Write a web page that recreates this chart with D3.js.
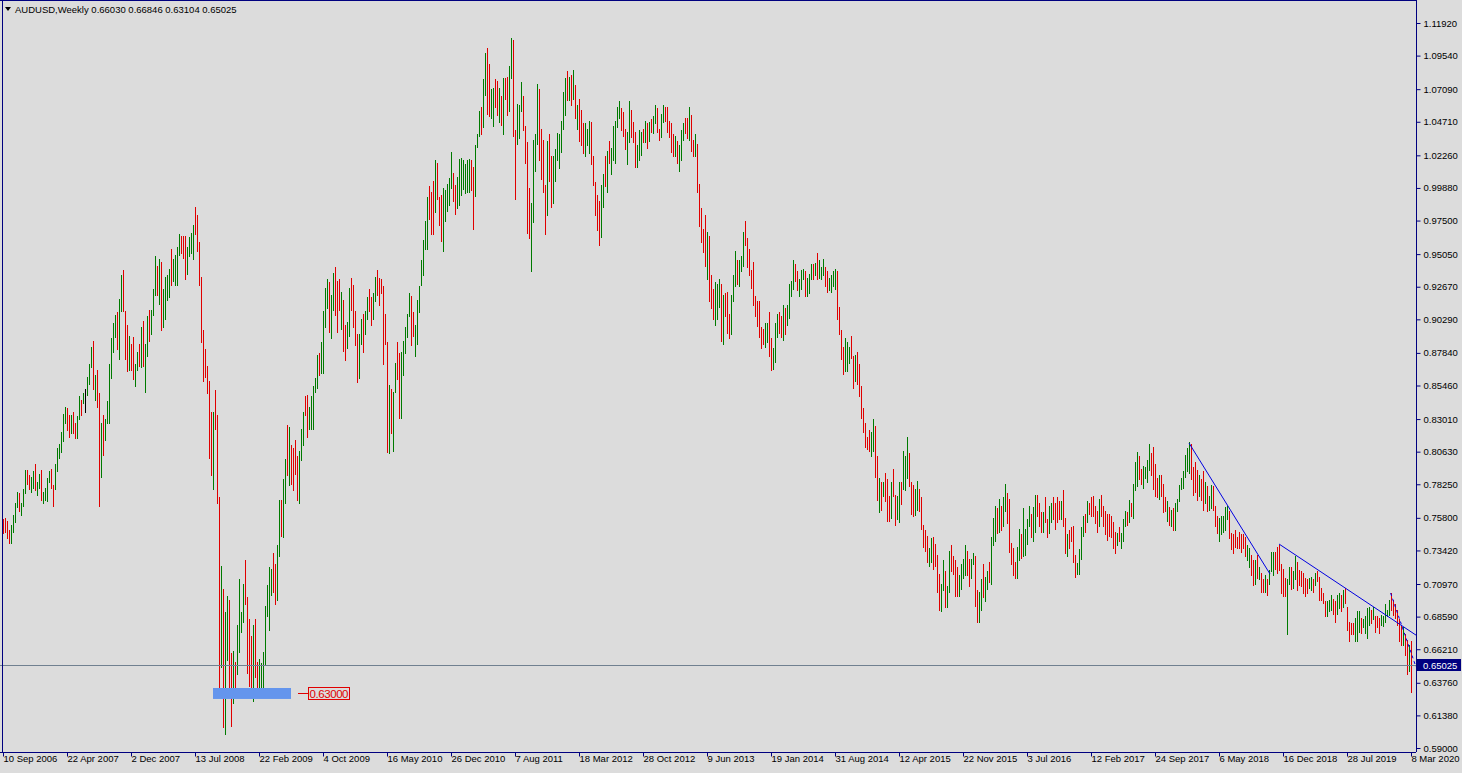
<!DOCTYPE html>
<html lang="en">
<head>
<meta charset="UTF-8">
<title>AUDUSD Weekly</title>
<script src="https://cdn.jsdelivr.net/npm/d3@7"></script>
<style>
  body { margin: 0; background: #dcdcdc; }
  svg { display: block; }
  text { font-family: "Liberation Sans", Arial, sans-serif; font-size: 9.5px; }
</style>
</head>
<body>
<svg id="chart"></svg>
<script>
// weekly highs / lows, bar 0 = 10 Sep 2006 ... bar 704 = 8 Mar 2020
var highs = [
.757,.758,.756,.749,.753,.760,.769,.777,.776,.769,
.779,.793,.793,.789,.788,.792,.797,.784,.790,.793,
.777,.780,.787,.792,.794,.782,.797,.809,.812,.821,
.834,.839,.838,.833,.833,.835,.827,.832,.847,.844,
.849,.852,.861,.870,.883,.887,.862,.866,.849,.827,
.833,.830,.843,.870,.889,.900,.906,.908,.918,.935,
.939,.909,.899,.891,.885,.890,.870,.879,.885,.897,
.902,.885,.905,.910,.910,.925,.949,.942,.947,.945,
.925,.934,.935,.940,.954,.947,.950,.956,.965,.964,
.964,.964,.956,.963,.966,.972,.985,.979,.959,.934,
.895,.881,.869,.858,.835,.835,.851,.833,.773,.723,
.706,.689,.701,.698,.659,.661,.653,.680,.713,.689,
.710,.727,.700,.684,.672,.680,.684,.653,.655,.652,
.660,.694,.709,.722,.721,.732,.724,.738,.771,.771,
.786,.801,.826,.824,.811,.809,.815,.803,.807,.823,
.835,.847,.848,.839,.847,.854,.860,.877,.878,.886,
.909,.926,.932,.930,.921,.937,.941,.931,.932,.923,
.917,.899,.901,.926,.933,.928,.909,.892,.892,.903,
.907,.909,.919,.925,.919,.922,.934,.939,.933,.932,
.927,.907,.886,.855,.852,.850,.871,.886,.878,.879,
.887,.897,.907,.922,.920,.908,.899,.917,.927,.946,
.961,.975,.992,1.000,.996,1.004,1.019,1.017,.992,.994,
.999,.997,1.002,1.006,1.025,1.010,1.001,1.007,1.020,1.021,
1.019,1.016,1.019,1.020,1.019,1.014,1.030,1.038,1.055,1.058,
1.078,1.097,1.101,1.089,1.071,1.072,1.078,1.077,1.072,1.066,
1.079,1.079,1.080,1.088,1.108,1.107,1.041,1.060,1.059,1.076,
1.066,1.044,1.032,.999,.988,1.034,1.038,1.075,1.071,1.042,
1.034,1.001,1.033,1.038,1.022,1.022,1.027,1.039,1.038,1.048,
1.069,1.079,1.084,1.080,1.081,1.085,1.074,1.059,1.064,1.056,
1.046,1.046,1.042,1.048,1.047,1.022,1.003,.994,.989,1.001,
1.009,1.022,1.026,1.033,1.028,1.044,1.048,1.058,1.062,1.057,
1.054,1.042,1.040,1.062,1.056,1.047,1.040,1.030,1.041,1.040,
1.042,1.048,1.046,1.047,1.049,1.051,1.059,1.057,1.042,1.053,
1.059,1.058,1.058,1.048,1.046,1.038,1.037,1.033,1.030,1.041,
1.046,1.050,1.050,1.058,1.052,1.034,1.038,1.031,1.002,.984,
.969,.979,.967,.964,.935,.925,.930,.929,.932,.929,
.921,.922,.923,.907,.921,.935,.953,.946,.946,.949,
.967,.975,.962,.954,.939,.945,.920,.916,.916,.897,
.896,.900,.900,.908,.889,.882,.900,.907,.908,.905,
.913,.911,.913,.929,.931,.946,.943,.938,.932,.939,
.940,.938,.933,.936,.943,.943,.944,.951,.946,.941,
.947,.941,.938,.933,.935,.938,.940,.938,.912,.895,
.883,.889,.886,.883,.891,.876,.877,.879,.870,.854,
.838,.827,.817,.822,.821,.830,.825,.803,.787,.784,
.784,.791,.786,.774,.784,.794,.775,.774,.784,.784,
.807,.803,.817,.805,.784,.782,.779,.785,.779,.773,
.753,.749,.745,.736,.743,.744,.739,.731,.717,.710,
.727,.719,.708,.734,.738,.730,.727,.722,.716,.724,
.728,.738,.734,.728,.728,.732,.730,.705,.704,.713,
.724,.715,.719,.726,.744,.758,.767,.765,.772,.767,
.773,.783,.776,.772,.740,.736,.726,.737,.750,.746,
.765,.750,.757,.767,.761,.766,.775,.775,.769,.762,
.762,.773,.757,.767,.769,.773,.769,.773,.770,.770,
.778,.758,.746,.749,.751,.752,.731,.725,.735,.751,
.759,.761,.770,.769,.773,.774,.767,.763,.772,.775,
.767,.763,.761,.761,.759,.755,.748,.747,.751,.747,
.757,.763,.762,.771,.769,.783,.799,.806,.803,.794,
.796,.795,.800,.812,.805,.810,.797,.787,.789,.789,
.783,.773,.770,.766,.764,.765,.769,.772,.782,.787,
.792,.804,.809,.813,.812,.795,.799,.793,.789,.786,
.792,.784,.781,.774,.782,.781,.767,.759,.758,.759,
.759,.766,.767,.763,.747,.746,.749,.744,.748,.746,
.746,.744,.738,.736,.731,.727,.727,.731,.722,.718,
.713,.716,.713,.720,.733,.733,.733,.737,.738,.724,
.721,.714,.713,.722,.722,.719,.730,.726,.720,.719,
.718,.714,.713,.714,.715,.713,.718,.719,.715,.707,
.703,.697,.697,.698,.702,.699,.697,.702,.703,.702,
.705,.707,.693,.682,.681,.681,.685,.690,.690,.685,
.684,.686,.692,.693,.691,.693,.686,.686,.685,.687,
.686,.695,.691,.698,.703,.698,.695,.691,.684,.680,
.678,.673,.669,.665,.66846
];
var lows = [
.747,.748,.743,.740,.740,.748,.755,.766,.763,.760,
.767,.776,.783,.779,.777,.780,.778,.775,.780,.771,
.769,.771,.770,.784,.780,.767,.779,.792,.802,.806,
.814,.827,.822,.817,.820,.820,.816,.816,.830,.833,
.842,.835,.848,.856,.868,.852,.844,.839,.767,.788,
.804,.815,.827,.827,.860,.879,.890,.881,.874,.909,
.909,.874,.865,.866,.866,.859,.854,.866,.869,.868,
.869,.850,.876,.887,.892,.906,.921,.921,.914,.895,
.897,.903,.917,.919,.928,.931,.928,.928,.950,.951,
.948,.932,.936,.949,.951,.947,.965,.953,.928,.886,
.858,.861,.849,.802,.789,.779,.823,.769,.632,.649,
.605,.600,.654,.634,.606,.623,.628,.644,.660,.675,
.682,.695,.645,.635,.633,.624,.642,.632,.632,.628,
.630,.651,.686,.676,.702,.704,.695,.698,.730,.745,
.744,.769,.789,.782,.783,.778,.790,.771,.769,.800,
.811,.833,.817,.823,.823,.823,.850,.853,.862,.864,
.864,.897,.911,.894,.889,.910,.906,.894,.910,.896,
.880,.873,.882,.891,.910,.897,.884,.857,.860,.885,
.879,.892,.903,.909,.899,.903,.916,.921,.913,.922,
.870,.885,.806,.805,.820,.807,.850,.859,.831,.831,
.862,.878,.890,.905,.884,.891,.876,.885,.908,.928,
.935,.954,.954,.976,.965,.965,.981,.991,.972,.960,
.953,.975,.982,.986,.999,.989,.980,.984,.986,.994,
.998,.995,.996,.996,.997,.969,.993,1.029,1.037,1.038,
1.043,1.067,1.053,1.051,1.050,1.044,1.058,1.052,1.047,1.045,
1.038,1.064,1.052,1.055,1.079,1.037,.991,1.031,1.035,1.055,
1.041,1.017,.966,.962,.938,.974,1.011,1.031,1.019,1.005,
.996,.965,.979,1.004,.985,.988,1.004,1.019,1.013,1.025,
1.042,1.052,1.063,1.063,1.059,1.064,1.050,1.042,1.033,1.030,
1.024,1.022,1.030,1.024,1.016,1.001,.979,.968,.957,.963,
.985,1.000,.996,1.017,1.009,1.019,1.017,1.043,1.050,1.041,
1.037,1.027,1.016,1.032,1.036,1.032,1.014,1.014,1.019,1.023,
1.032,1.032,1.028,1.033,1.040,1.039,1.046,1.040,1.034,1.036,
1.047,1.048,1.040,1.036,1.025,1.022,1.022,1.017,1.011,1.019,
1.034,1.039,1.035,1.034,1.026,1.022,1.022,.996,.971,.959,
.952,.942,.932,.916,.911,.903,.899,.903,.912,.887,
.885,.905,.893,.889,.892,.916,.927,.929,.927,.938,
.942,.957,.941,.935,.926,.913,.905,.898,.890,.882,
.885,.883,.886,.876,.866,.867,.872,.890,.893,.890,
.888,.892,.899,.904,.920,.925,.931,.924,.920,.925,
.932,.920,.920,.922,.932,.932,.935,.932,.933,.932,
.935,.927,.923,.924,.923,.927,.925,.903,.892,.874,
.863,.865,.865,.871,.875,.853,.858,.856,.847,.831,
.821,.810,.808,.807,.803,.807,.788,.771,.762,.764,
.774,.770,.756,.756,.758,.774,.753,.757,.755,.768,
.779,.778,.787,.781,.761,.759,.760,.764,.763,.750,
.737,.734,.726,.723,.726,.721,.723,.704,.691,.690,
.705,.693,.693,.704,.719,.717,.701,.701,.701,.706,
.714,.716,.716,.708,.714,.724,.694,.682,.682,.691,
.700,.697,.706,.711,.710,.738,.741,.747,.748,.749,
.752,.763,.754,.733,.724,.716,.714,.714,.727,.729,
.730,.731,.739,.752,.744,.741,.748,.759,.752,.748,
.748,.755,.744,.747,.755,.757,.750,.755,.757,.757,
.752,.732,.730,.736,.741,.726,.715,.717,.717,.728,
.745,.748,.755,.761,.759,.759,.754,.748,.752,.759,
.752,.746,.742,.745,.744,.736,.732,.738,.741,.736,
.741,.752,.753,.755,.759,.758,.778,.781,.786,.783,
.780,.787,.784,.793,.789,.779,.774,.773,.772,.774,
.762,.763,.756,.753,.752,.749,.749,.763,.770,.779,
.780,.788,.792,.791,.786,.775,.777,.771,.774,.771,
.764,.769,.763,.764,.765,.764,.752,.747,.741,.746,
.748,.749,.757,.743,.735,.732,.737,.736,.736,.733,
.736,.730,.727,.722,.716,.709,.710,.714,.713,.704,
.704,.704,.702,.710,.719,.716,.721,.718,.720,.703,
.701,.701,.673,.710,.706,.707,.713,.705,.709,.708,
.703,.701,.703,.707,.705,.704,.709,.712,.698,.698,
.696,.686,.686,.690,.691,.688,.682,.688,.692,.690,
.693,.696,.676,.668,.673,.673,.668,.668,.675,.674,
.678,.674,.670,.680,.681,.684,.675,.678,.674,.680,
.679,.682,.686,.687,.691,.687,.685,.680,.668,.665,
.665,.658,.644,.646,.63104
];
// u = close above open (green), d = below (red), n = unchanged
var dirs = [
'dddduuuudu','uudduuduud','uuuudduuuu','uuddudduud','unuuududdu',
'duuuuuuduu','dddudduudu','duuduuudud','uuuuduuuud','dduuuudddd',
'dddddudddu','duudduduuu','uddd',
'dudduu','uuuuudduud','uududdddu u'.replace(' ', ''),'udduuuuudu','uuuduudddu',
'dduudddduu','duudduuddd','ddduduuddu','uuuudduuuu','uuuddduddd','uuuuudduuu','uuuudduuu',
'd','uudduuddud','udduudduuu','dddduuuudd','ddudduuuuu','uududududd',
'duuudddddu','ududuuuuud','dduuddduuu','dududuuddu','uddddduduu','udduddudd',
'd','dduddduuud','uddduuuduu','uddddddddd','duudduuudd','uduuuudduu',
'uduuududuu','udduuuuddd','duuudduddd','dddduuddud','udddudduud','uuuddduudd','ddduudddd',
'u','uduudddduu','uudduudduu','duuduuudud','uuddddduud','uuuuduuddd',
'udduuddddu','ddudddduuu','ududddddud','dddddddudu','uududuuudd','uuuuddddud','ddududuuuu','uuuudddd',
'ud','duduuddduu','uuuddddddd','dduuddudud','duduuudddd','dduuduuddd',
'ddduududdd','dduuudduud','uddddduuud','uuuududddu','uuuudddddd','uddud'
].join('').split('');

var ohlcTitle = ['0.66030', '0.66846', '0.63104', '0.65025'];
var lastClose = 0.65025;
var priceTicks = [1.11920, 1.09540, 1.07090, 1.04710, 1.02260, 0.99880, 0.97500, 0.95050,
  0.92670, 0.90290, 0.87840, 0.85460, 0.83010, 0.80630, 0.78250, 0.75800, 0.73420,
  0.70970, 0.68590, 0.66210, 0.63760, 0.61380, 0.59000];
var dateTicks = [0, 32, 64, 96, 128, 160, 192, 224, 256, 288, 320, 352, 384, 416, 448,
  480, 512, 544, 576, 608, 640, 672, 704];
var dateLabels = ['10 Sep 2006', '22 Apr 2007', '2 Dec 2007', '13 Jul 2008', '22 Feb 2009',
  '4 Oct 2009', '16 May 2010', '26 Dec 2010', '7 Aug 2011', '18 Mar 2012', '28 Oct 2012',
  '9 Jun 2013', '19 Jan 2014', '31 Aug 2014', '12 Apr 2015', '22 Nov 2015', '3 Jul 2016',
  '12 Feb 2017', '24 Sep 2017', '6 May 2018', '16 Dec 2018', '28 Jul 2019', '8 Mar 2020'];
// drawn objects: [bar index, price]
var trend1 = [[593, 0.8126], [633.5, 0.7170]];
var trend2 = [[638, 0.7389], [706.5, 0.6724]];
var trend3 = [[693.8, 0.7031], [706, 0.6491]];
var zoneBox = {from: 105, to: 144, top: 0.6338, bottom: 0.6258, level: 0.63000};

var svgWidth = 1462, svgHeight = 773;
var plotRight = 1416, plotBottom = 752;
var axisColor = '#00007f';

var x = d3.scaleLinear().domain([0, 704]).range([3, 1411]);
var y = d3.scaleLinear().domain([0.59, 1.1192]).range([748, 23]);

var svg = d3.select('#chart').attr('width', svgWidth).attr('height', svgHeight);
svg.append('rect').attr('width', svgWidth).attr('height', svgHeight).attr('fill', '#dcdcdc');

// bars
svg.append('g').selectAll('line')
  .data(highs)
  .enter()
  .append('line')
  .attr('x1', function(d, i) { return Math.round(x(i)) + 0.5; })
  .attr('x2', function(d, i) { return Math.round(x(i)) + 0.5; })
  .attr('y1', function(d) { return y(d); })
  .attr('y2', function(d, i) { return y(lows[i]) + 1; })
  .attr('stroke', function(d, i) {
    return dirs[i] === 'u' ? '#007a00' : (dirs[i] === 'd' ? '#e00000' : '#000');
  })
  .attr('stroke-width', 1)
  .attr('shape-rendering', 'crispEdges');

// last price line
svg.append('line')
  .attr('x1', 0).attr('x2', plotRight)
  .attr('y1', Math.round(y(lastClose)) + 0.5).attr('y2', Math.round(y(lastClose)) + 0.5)
  .attr('stroke', '#708090').attr('shape-rendering', 'crispEdges');

// zone rectangle + level label
svg.append('rect')
  .attr('x', x(zoneBox.from)).attr('width', x(zoneBox.to) - x(zoneBox.from))
  .attr('y', y(zoneBox.top)).attr('height', y(zoneBox.bottom) - y(zoneBox.top))
  .attr('fill', '#6495ed');
var lvlY = Math.round(y((zoneBox.top + zoneBox.bottom) / 2)) + 0.5;
svg.append('line')
  .attr('x1', x(zoneBox.to) + 7).attr('x2', x(zoneBox.to) + 17)
  .attr('y1', lvlY).attr('y2', lvlY).attr('stroke', '#e00000');
svg.append('rect')
  .attr('x', x(zoneBox.to) + 17.5).attr('y', lvlY - 6).attr('width', 41).attr('height', 12)
  .attr('fill', 'none').attr('stroke', '#e00000');
svg.append('text')
  .attr('x', x(zoneBox.to) + 18.5).attr('y', lvlY + 4.5)
  .attr('fill', '#e00000').style('font-size', '11.5px').attr('textLength', 39)
  .text(zoneBox.level.toFixed(5));

// trend lines
[trend1, trend2].forEach(function(t) {
  svg.append('line')
    .attr('x1', x(t[0][0])).attr('y1', y(t[0][1]))
    .attr('x2', Math.min(x(t[1][0]), plotRight)).attr('y2', y(t[1][1]))
    .attr('stroke', '#0000e0').attr('stroke-width', 1);
});
svg.append('line')
  .attr('x1', x(trend3[0][0])).attr('y1', y(trend3[0][1]))
  .attr('x2', plotRight).attr('y2', y(trend3[1][1]))
  .attr('stroke', '#0000e0').attr('stroke-dasharray', '3,3');

// frame
svg.append('line').attr('x1', 2.5).attr('x2', 2.5).attr('y1', 0).attr('y2', plotBottom)
  .attr('stroke', axisColor);
svg.append('line').attr('x1', 0).attr('x2', plotRight).attr('y1', 0.5).attr('y2', 0.5)
  .attr('stroke', axisColor);

// price axis
var yAxis = d3.axisRight(y).tickValues(priceTicks).tickSize(4).tickSizeOuter(0)
  .tickFormat(function(d) { return d.toFixed(5); });
var gy = svg.append('g').attr('transform', 'translate(' + (plotRight + 0.5) + ',0)').call(yAxis);
gy.select('.domain').attr('stroke', axisColor).attr('d', 'M0,0V' + plotBottom);
gy.selectAll('.tick line').attr('stroke', axisColor);
gy.selectAll('.tick text').attr('fill', '#000').attr('x', 7)
  .style('font-family', '"Liberation Sans", Arial, sans-serif').style('font-size', '9.5px');

// date axis
var xAxis = d3.axisBottom(x).tickValues(dateTicks).tickSize(4).tickSizeOuter(0)
  .tickFormat(function(d, i) { return dateLabels[i]; });
var gx = svg.append('g').attr('transform', 'translate(0,' + (plotBottom + 0.5) + ')').call(xAxis);
gx.select('.domain').attr('stroke', axisColor).attr('d', 'M0,0H' + plotRight);
gx.selectAll('.tick line').attr('stroke', axisColor);
gx.selectAll('.tick text').attr('fill', '#000').attr('text-anchor', 'start').attr('x', 0).attr('y', 3)
  .style('font-family', '"Liberation Sans", Arial, sans-serif').style('font-size', '9.5px');
gx.selectAll('.tick').filter(function(d) { return d === 704; }).select('text')
  .attr('text-anchor', 'end').attr('x', 48);

// last price tag
var tagY = Math.round(y(lastClose));
svg.append('rect').attr('x', plotRight + 1).attr('y', tagY - 6).attr('width', 44).attr('height', 12)
  .attr('fill', '#000080');
svg.append('text').attr('x', plotRight + 7).attr('y', tagY + 3.5).attr('fill', '#fff')
  .text(lastClose.toFixed(5));

// title
svg.append('path').attr('d', 'M5,7 L11,7 L8,11 Z').attr('fill', '#000');
svg.append('text').attr('x', 15).attr('y', 13).attr('fill', '#000')
  .text('AUDUSD,Weekly  ' + ohlcTitle.join(' '));
</script>
</body>
</html>
